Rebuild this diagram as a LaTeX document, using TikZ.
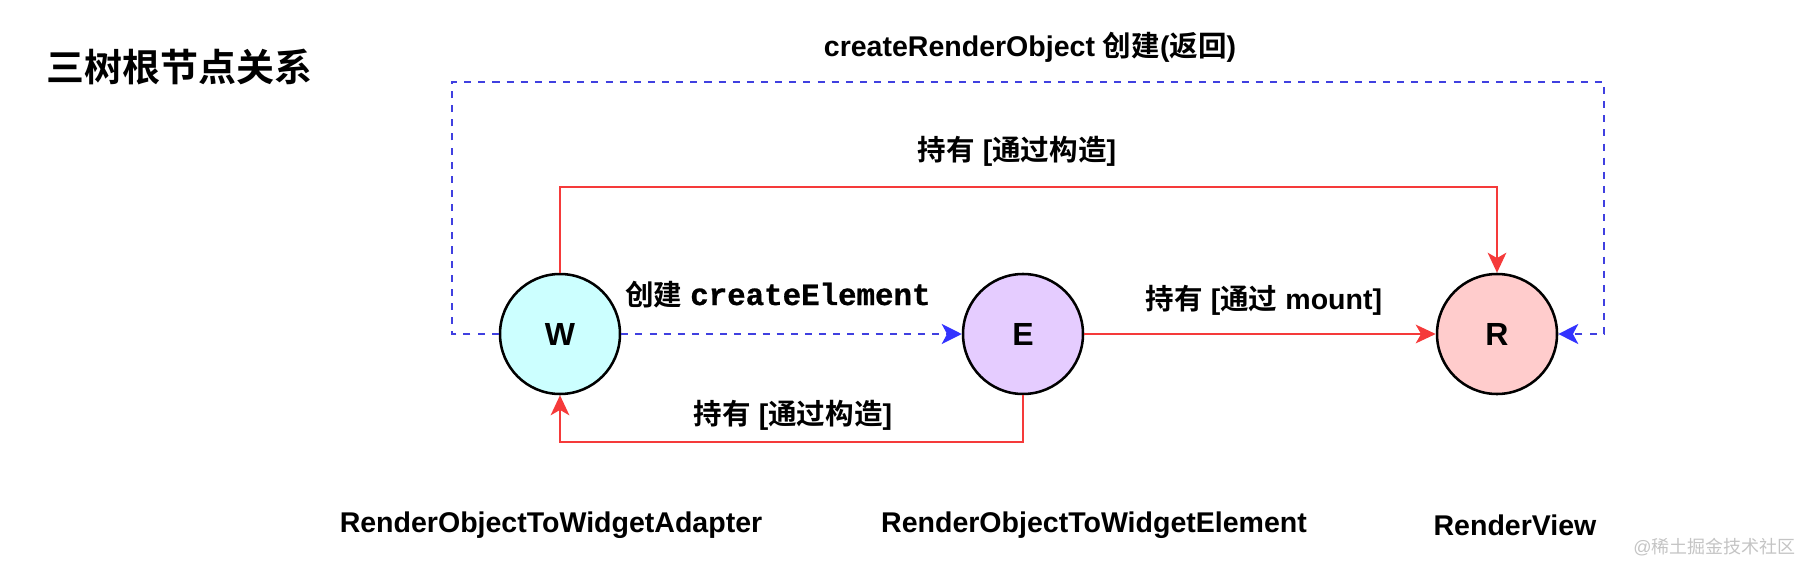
\documentclass[tikz,border=0pt]{standalone}
\usepackage{fontspec}
\setmainfont{Liberation Sans}
\newfontfamily\monob{Liberation Mono}[BoldFeatures={FakeBold=0.8}]
\newfontfamily\cjk{Noto Sans CJK SC}[BoldFont={Noto Sans CJK SC Bold}]
\newcommand{\zhtext}[1]{{\cjk #1}}
\usetikzlibrary{arrows.meta}
\definecolor{wfill}{HTML}{CCFFFF}
\definecolor{efill}{HTML}{E5CCFF}
\definecolor{rfill}{HTML}{FFCCCC}
\definecolor{redline}{HTML}{F53A3A}
\definecolor{blueline}{HTML}{4040E0}
\definecolor{bluetip}{HTML}{3333FF}
\definecolor{wmgray}{HTML}{C4C4C4}
\tikzset{
  circ/.style={circle, draw=black, line width=1.9pt, minimum size=90pt, inner sep=0pt,
    font=\fontsize{24}{28}\selectfont\bfseries},
  lbl/.style={inner sep=0pt, anchor=base, font=\fontsize{21.4}{25}\selectfont\bfseries},
  holdarrow/.style={draw=redline, line width=1.5pt,
    -{Stealth[length=15pt,width=14pt,inset=4pt,fill=redline]}},
  createarrow/.style={draw=blueline, line width=1.5pt, dash pattern=on 5.3pt off 5.3pt,
    -{Stealth[length=15pt,width=15pt,inset=4pt,fill=bluetip,color=bluetip]}},
}
\begin{document}
\begin{tikzpicture}[x=0.75pt,y=-0.75pt]
\useasboundingbox (0,0) rectangle (1812,574);
% title
\node[inner sep=0pt, anchor=base west, font=\fontsize{28.5}{32}\selectfont\bfseries] (title) at (46,82) {\zhtext{三树根节点关系}};
% nodes
\node[circ, fill=wfill] (W) at (560,334) {W};
\node[circ, fill=efill] (E) at (1023,334) {E};
\node[circ, fill=rfill] (R) at (1497,334) {R};
% corner coordinates
\coordinate (b1) at (452,334);
\coordinate (b2) at (452,82);
\coordinate (b3) at (1604,82);
\coordinate (b4) at (1604,334);
\coordinate (t1) at (560,187);
\coordinate (t2) at (1497,187);
\coordinate (u1) at (1023,442);
\coordinate (u2) at (560,442);
% connectors
\draw[createarrow] (W.west) -- (b1) -- (b2) -- (b3) -- (b4) -- (R.east);
\draw[holdarrow] (W.north) -- (t1) -- (t2) -- (R.north);
\draw[createarrow] (W.east) -- (E.west);
\draw[holdarrow] (E.east) -- (R.west);
\draw[holdarrow] (E.south) -- (u1) -- (u2) -- (W.south);
% labels
\node[lbl] (ltop) at (1030,57) {createRenderObject \zhtext{创建}(\zhtext{返回})};
\node[lbl] (lhold1) at (1017,161) {\zhtext{持有} [\zhtext{通过构造}]};
\node[lbl, anchor=base west] (lcreate) at (625,305) {\zhtext{创建} {\fontsize{23.1}{26}\selectfont\monob\bfseries createElement}};
\node[lbl] (lmount) at (1264,309) {\zhtext{持有} [\zhtext{通过} mount]};
\node[lbl] (lhold2) at (793,424) {\zhtext{持有} [\zhtext{通过构造}]};
\node[lbl] (nW) at (551,532) {RenderObjectToWidgetAdapter};
\node[lbl] (nE) at (1094,532) {RenderObjectToWidgetElement};
\node[lbl] (nR) at (1515,535) {RenderView};
\node[inner sep=0pt, anchor=base east, text=wmgray, font=\fontsize{13.5}{16}\selectfont] (wm) at (1796,553) {@\zhtext{稀土掘金技术社区}};
\end{tikzpicture}
\end{document}
